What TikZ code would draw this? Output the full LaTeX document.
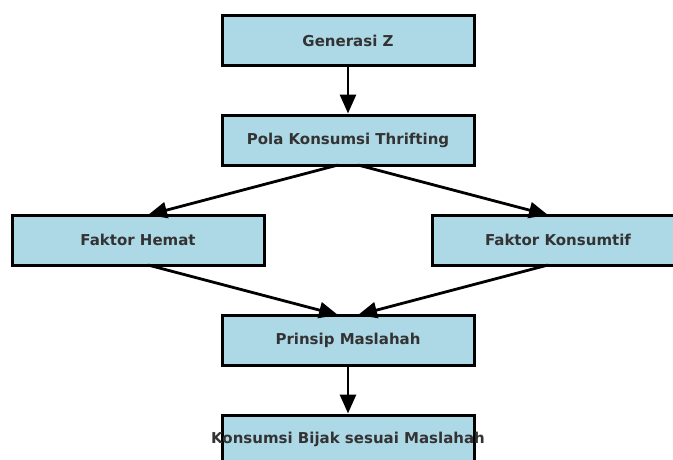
\documentclass[tikz,border=0pt]{standalone}
\usepackage{fontspec}
\setmainfont{DejaVu Sans}
\usetikzlibrary{arrows.meta}
\definecolor{boxfill}{HTML}{ADD8E6}
\definecolor{txt}{HTML}{333333}
\tikzset{
  flowbox/.style={draw=black, line width=3pt, fill=boxfill, minimum width=252pt, minimum height=50pt, inner sep=0pt, text=txt, font=\fontsize{15pt}{18pt}\selectfont\bfseries},
  flowarrow/.style={line width=2.8pt, -{Triangle[length=19pt,width=16pt]}}
}
\begin{document}
\begin{tikzpicture}[x=1pt,y=-1pt]
\useasboundingbox (0,0) rectangle (673,459);
\clip (0,0) rectangle (673,459);
\node[flowbox] (gz) at (348,40.5) {Generasi Z};
\node[flowbox] (pola) at (348,140) {Pola Konsumsi Thrifting};
\node[flowbox] (hemat) at (138,240) {Faktor Hemat};
\node[flowbox] (kons) at (558,240) {Faktor Konsumtif};
\node[flowbox] (prin) at (348,340) {Prinsip Maslahah};
\node[flowbox] (bijak) at (348,440) {};
\node[text=txt, font=\fontsize{15pt}{18pt}\selectfont\bfseries] (bijaktext) at (348,439) {Konsumsi Bijak sesuai Maslahah};
\coordinate (pl) at (338,165);
\coordinate (pr) at (358,165);
\coordinate (ht) at (148,215);
\coordinate (kt) at (548,215);
\coordinate (hb) at (148,265);
\coordinate (kb) at (548,265);
\coordinate (pml) at (338,315);
\coordinate (pmr) at (358,315);
\draw[flowarrow] (gz.south) -- (pola.north);
\draw[flowarrow] (pl) -- (ht);
\draw[flowarrow] (pr) -- (kt);
\draw[flowarrow] (hb) -- (pml);
\draw[flowarrow] (kb) -- (pmr);
\draw[flowarrow] (prin.south) -- (bijak.north);
\end{tikzpicture}
\end{document}
